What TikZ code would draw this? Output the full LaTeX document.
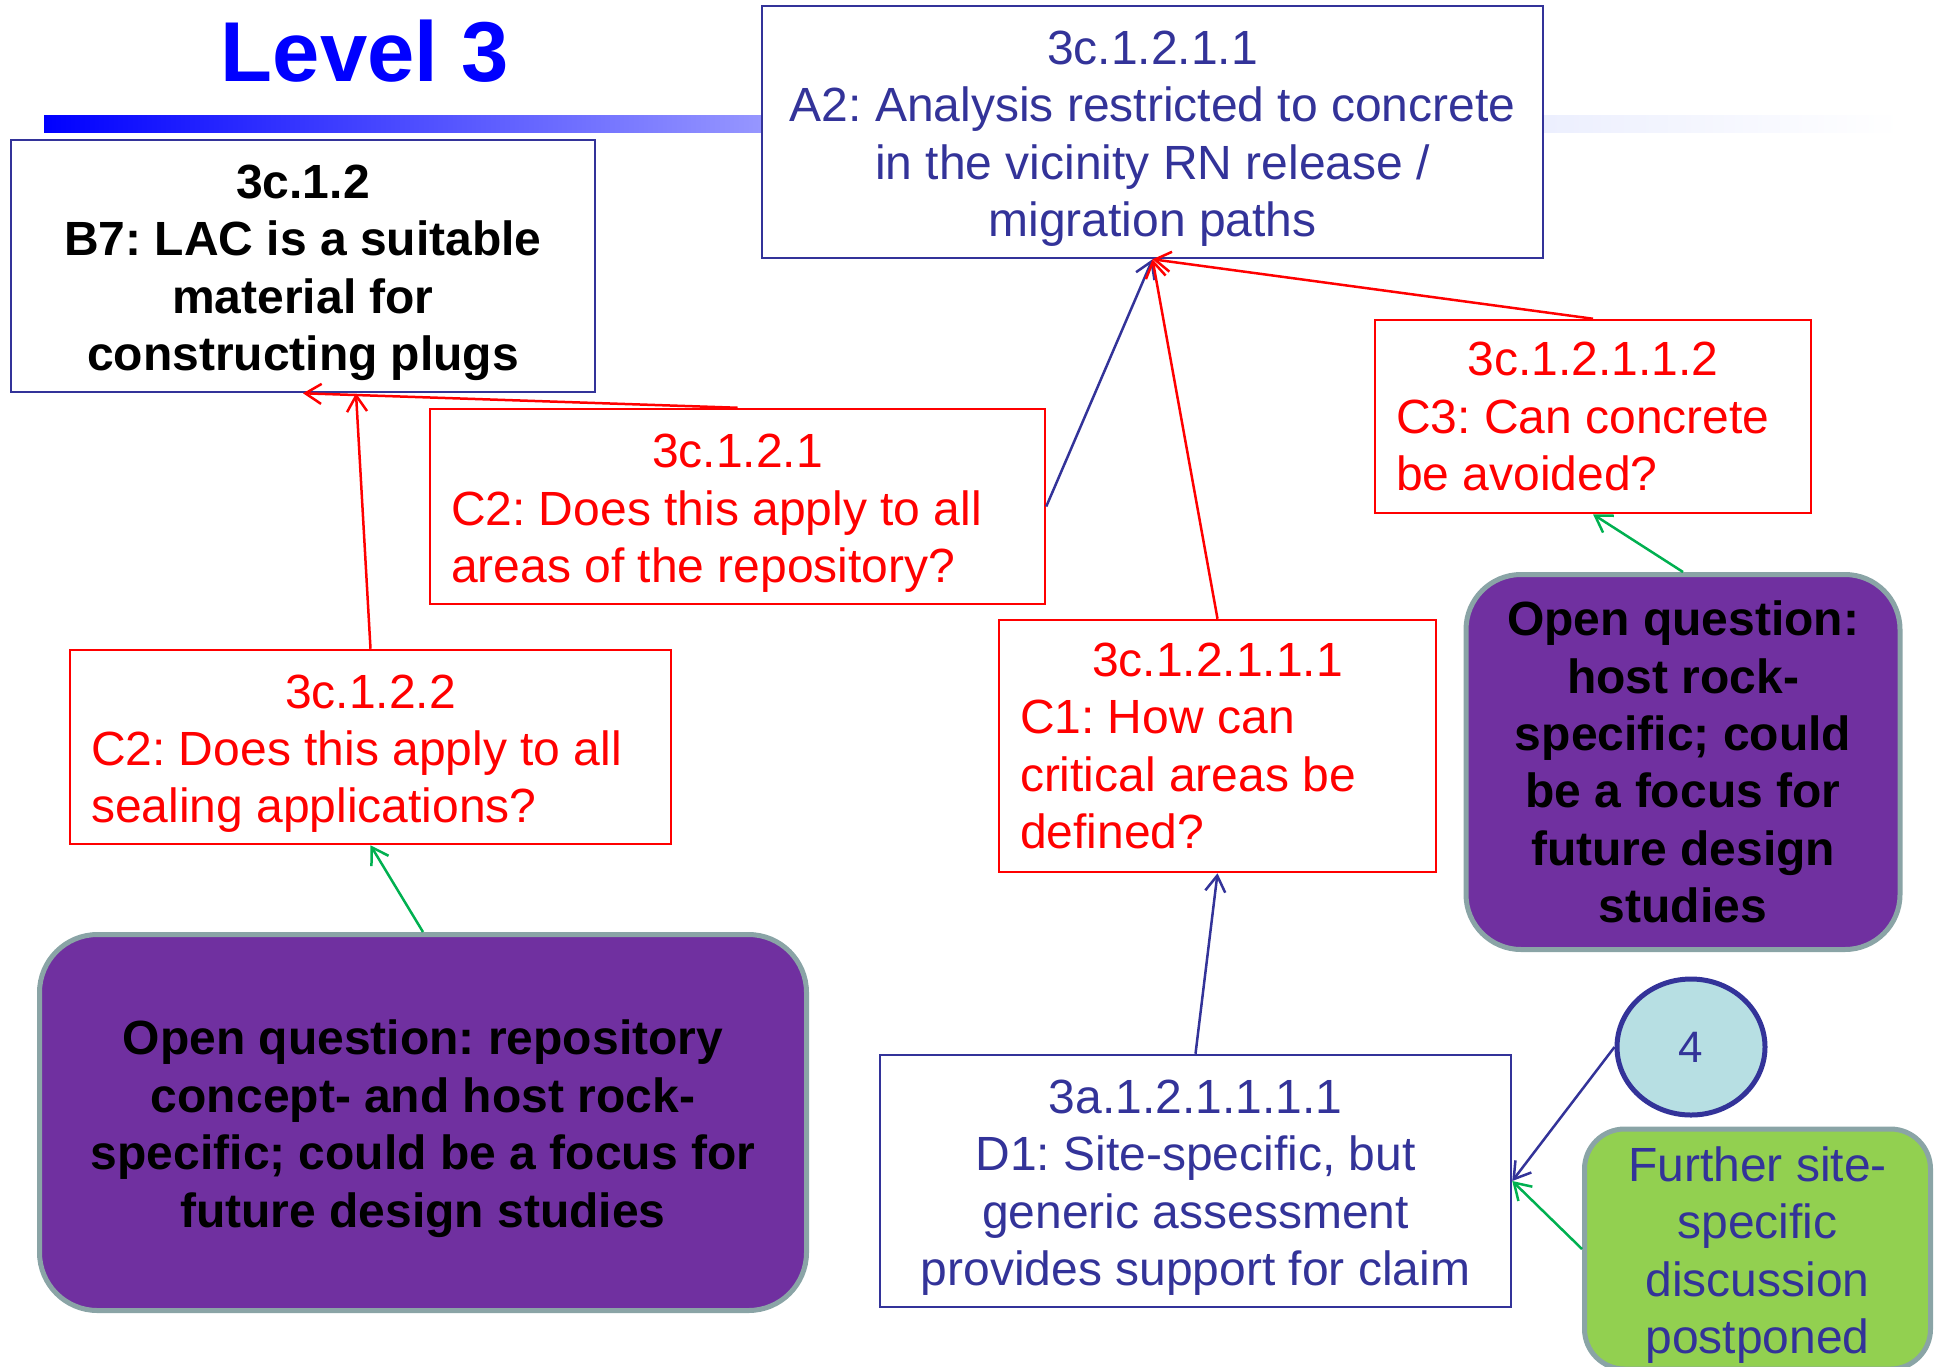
\documentclass[tikz,border=0pt]{standalone}
\usepackage{fontspec}
\setmainfont{Liberation Sans}
\usepackage{xcolor}
\definecolor{claim-navy}{HTML}{333399}
\definecolor{query-red}{HTML}{FF0000}
\definecolor{open-purple}{HTML}{7030A0}
\definecolor{open-edge}{HTML}{8AA4A6}
\definecolor{link-green}{HTML}{00B050}
\definecolor{later-green}{HTML}{92D050}
\definecolor{ref-cyan}{HTML}{B7DFE3}
\definecolor{title-blue}{HTML}{0000FF}
\definecolor{bar-mid}{HTML}{9696FF}
\definecolor{bar-pale}{HTML}{ECEFFE}
\usepackage{tikz}
\usetikzlibrary{
  shapes.geometric,
  arrows.meta
}
\newcommand{\boxfont}{\fontsize{48}{57.4}\selectfont}
\frenchspacing

\begin{document}
\begin{tikzpicture}[
    x=1pt, y=-1pt,
    lift/.style={
      execute at begin node={\rule{0pt}{47pt}}
    },
    claim/.style={
      rectangle,
      draw=claim-navy,
      line width=2.5pt,
      fill=white,
      font=\boxfont,
      text=claim-navy,
      align=flush center,
      inner xsep=10pt,
      inner ysep=0pt
    },
    query/.style={
      rectangle,
      draw=query-red,
      line width=2.5pt,
      fill=white,
      font=\boxfont,
      text=query-red,
      align=flush left,
      inner xsep=21pt,
      inner ysep=0pt
    },
    openq/.style={
      rectangle,
      draw=open-edge,
      line width=5pt,
      fill=open-purple,
      rounded corners=58pt,
      font=\boxfont\bfseries,
      text=black,
      align=flush center,
      inner xsep=10pt
    },
    arrow/.style={
      -{Straight Barb[length=16pt, width=20pt]},
      line width=2.5pt
    },
    redarrow/.style={arrow, color=query-red},
    bluearrow/.style={arrow, color=claim-navy},
    greenarrow/.style={arrow, color=link-green}
  ]
    \useasboundingbox (0,0) rectangle (1937,1366);

    % Title and bar
    \node[font=\fontsize{85}{100}\selectfont\bfseries, text=title-blue, anchor=base]
      (title) at (365,81) {Level 3};
    \shade[left color=title-blue, right color=bar-mid] (44,115) rectangle (760,132);
    \shade[left color=bar-mid, right color=bar-pale] (760,115) rectangle (1545,132);
    \shade[left color=bar-pale, right color=white] (1545,115) rectangle (1902,132);

    % Claims and questions
    \node[claim, lift, text=black, font=\boxfont\bfseries, text width=564pt, minimum height=252pt]
      (c12) at (303,266) {3c.1.2\\B7: LAC is a suitable\\material for\\constructing plugs};
    \node[claim, lift, text width=761pt, minimum height=252pt]
      (c1211) at (1152.5,132) {3c.1.2.1.1\\A2: Analysis restricted to concrete\\in the vicinity RN release /\\migration paths};
    \node[query, lift, text width=573pt, minimum height=195pt]
      (c121) at (737.5,506.5) {\makebox[\linewidth]{3c.1.2.1}\\C2: Does this apply to all\\areas of the repository?};
    \node[query, text width=394pt, minimum height=193pt]
      (c12112) at (1593,416.5) {\makebox[\linewidth]{3c.1.2.1.1.2}\\C3: Can concrete\\be avoided?};
    \node[query, lift, text width=559pt, minimum height=194pt]
      (c122) at (370.5,747) {\makebox[\linewidth]{3c.1.2.2}\\C2: Does this apply to all\\sealing applications?};
    \node[query, text width=395pt, minimum height=252pt]
      (c12111) at (1217.5,746) {\makebox[\linewidth]{3c.1.2.1.1.1}\\C1: How can\\critical areas be\\defined?};
    \node[claim, lift, text width=611pt, minimum height=252pt]
      (c3a) at (1195.5,1181) {3a.1.2.1.1.1.1\\D1: Site-specific, but\\generic assessment\\provides support for claim};

    % Open questions and notes
    \node[openq, lift, text width=737pt, minimum width=767pt, minimum height=376pt]
      (oqleft) at (423,1122.5) {Open question: repository\\concept- and host rock-\\specific; could be a focus for\\future design studies};
    \node[openq, text width=405pt, minimum width=434pt, minimum height=375pt, rounded corners=55pt]
      (oqright) at (1683,762) {Open question:\\host rock-\\specific; could\\be a focus for\\future design\\studies};
    \node[ellipse, draw=claim-navy, line width=5pt, fill=ref-cyan, minimum width=148pt, minimum height=136pt,
      font=\fontsize{44}{50}\selectfont, text=claim-navy]
      (four) at (1691,1047) {4};
    \node[openq, lift, fill=later-green, font=\boxfont, text=claim-navy, text width=317pt, minimum width=346pt, minimum height=240pt, rounded corners=40pt]
      (further) at (1757.5,1249) {Further site-\\specific\\discussion\\postponed};

    % Links
    \draw[redarrow] (c121.north) -- (c12.south);
    \draw[redarrow] (c122.north) -- ([xshift=53pt]c12.south);
    \draw[bluearrow] (c121.east) -- (c1211.south);
    \draw[redarrow] (c12111.north) -- (c1211.south);
    \draw[redarrow] (c12112.north) -- (c1211.south);
    \draw[bluearrow] (c3a.north) -- (c12111.south);
    \draw[bluearrow] (four.west) -- (c3a.east);
    \draw[greenarrow] (further.west) -- (c3a.east);
    \draw[greenarrow] (oqleft.north) -- (c122.south);
    \draw[greenarrow] (oqright.north) -- (c12112.south);
  \end{tikzpicture}
\end{document}
